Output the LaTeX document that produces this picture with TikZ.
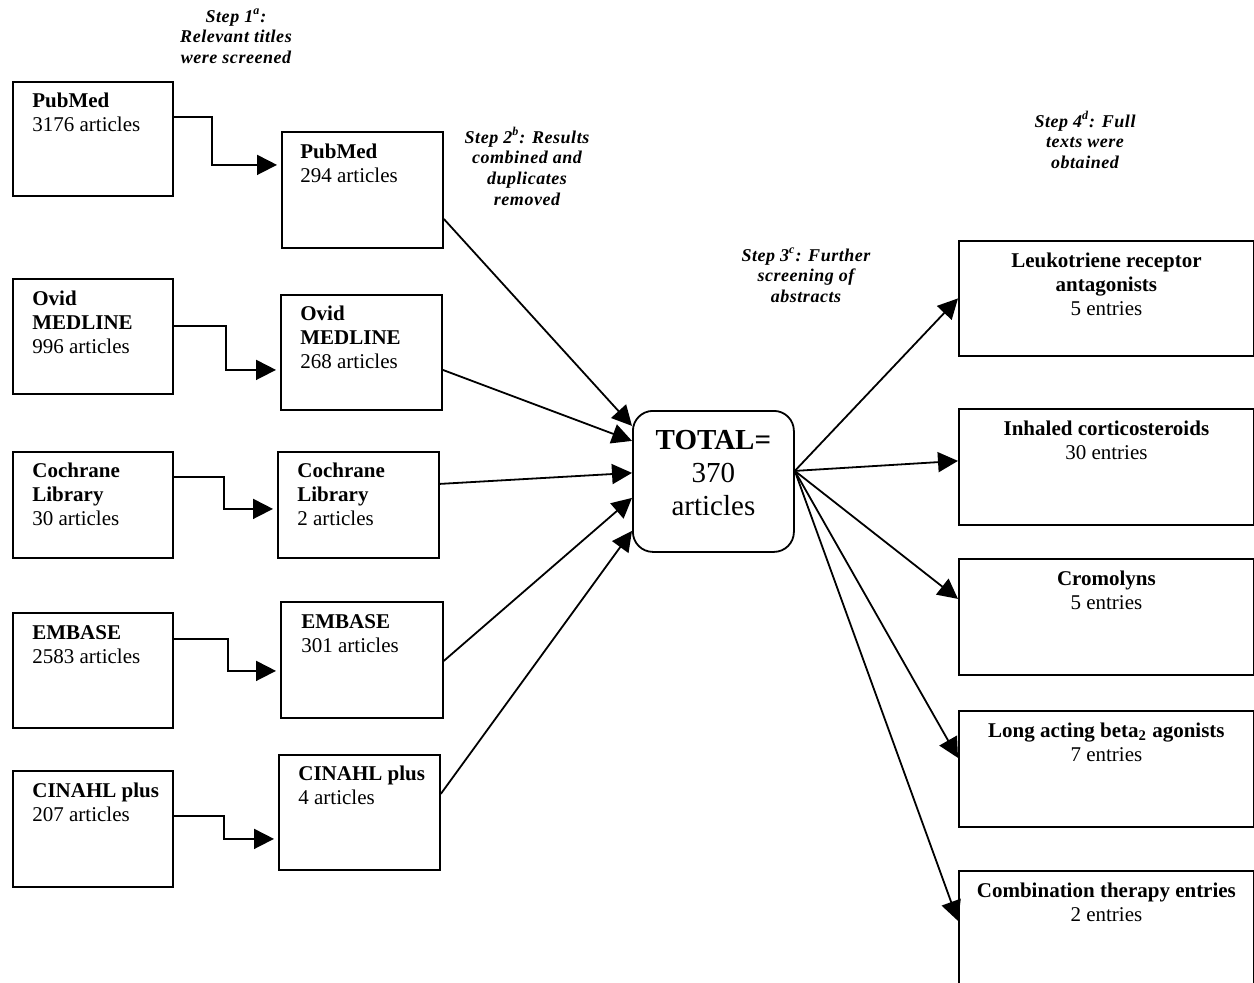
\documentclass[tikz,border=0pt]{standalone}
\usepackage{fontspec}
\setmainfont{Liberation Serif}
\usetikzlibrary{arrows.meta,calc}
\begin{document}
\begin{tikzpicture}[x=0.5pt,y=-0.5pt,
  box/.style={draw, line width=0.9pt, inner sep=0pt, anchor=north west, minimum width=80.5pt},
  rbox/.style={draw, line width=0.9pt, inner sep=0pt, anchor=north west, minimum width=147.5pt},
  txt/.style={anchor=base west, align=left, inner sep=0pt, font=\fontsize{10.5}{12}\selectfont},
  ctxt/.style={anchor=base, align=center, inner sep=0pt, font=\fontsize{10.5}{12}\selectfont},
  steplbl/.style={anchor=base, align=center, inner sep=0pt, font=\fontsize{9}{10.4}\selectfont\bfseries\itshape\addfontfeature{LetterSpace=3}},
  arr/.style={line width=0.9pt, -{Triangle[length=10pt,width=10pt]}},
]
\useasboundingbox (0,0) rectangle (1254,982);

% step labels (anchor = baseline of last line)
\node[steplbl] (s1) at (236,63.6) {Step 1\textsuperscript{a}:\\Relevant titles\\were screened};
\node[steplbl] (s2) at (527,205.4) {Step 2\textsuperscript{b}: Results\\combined and\\duplicates\\removed};
\node[steplbl] (s3) at (806,302.6) {Step 3\textsuperscript{c}: Further\\screening of\\abstracts};
\node[steplbl] (s4) at (1085,168.6) {Step 4\textsuperscript{d}: Full\\texts were\\obtained};

% left column
\node[box, minimum width=80pt, minimum height=57pt] (L1) at (12,81) {};
\node[txt] (L1t) at ($(L1.north west)+(20,50)$) {\textbf{PubMed}\\3176 articles};
\node[box, minimum width=80pt, minimum height=57.5pt] (L2) at (12,278) {};
\node[txt] (L2t) at ($(L2.north west)+(20,75)$) {\textbf{Ovid}\\\textbf{MEDLINE}\\996 articles};
\node[box, minimum width=80pt, minimum height=53pt] (L3) at (12,451) {};
\node[txt] (L3t) at ($(L3.north west)+(20,74)$) {\textbf{Cochrane}\\\textbf{Library}\\30 articles};
\node[box, minimum width=80pt, minimum height=57.5pt] (L4) at (12,612) {};
\node[txt] (L4t) at ($(L4.north west)+(20,51)$) {\textbf{EMBASE}\\2583 articles};
\node[box, minimum width=80pt, minimum height=58pt] (L5) at (12,770) {};
\node[txt] (L5t) at ($(L5.north west)+(20,51)$) {\textbf{CINAHL plus}\\207 articles};

% middle column
\node[box, minimum height=58pt] (M1) at (281,131) {};
\node[txt] (M1t) at ($(M1.north west)+(19,51)$) {\textbf{PubMed}\\294 articles};
\node[box, minimum height=57.5pt] (M2) at (280,294) {};
\node[txt] (M2t) at ($(M2.north west)+(20,74)$) {\textbf{Ovid}\\\textbf{MEDLINE}\\268 articles};
\node[box, minimum height=53pt] (M3) at (277,451) {};
\node[txt] (M3t) at ($(M3.north west)+(20,74)$) {\textbf{Cochrane}\\\textbf{Library}\\2 articles};
\node[box, minimum width=81pt, minimum height=58pt] (M4) at (280,601) {};
\node[txt] (M4t) at ($(M4.north west)+(21,51)$) {\textbf{EMBASE}\\301 articles};
\node[box, minimum height=57.5pt] (M5) at (278,754) {};
\node[txt] (M5t) at ($(M5.north west)+(20,50)$) {\textbf{CINAHL plus}\\4 articles};

% total
\node[draw, rounded corners=10pt, line width=0.9pt, anchor=north west, minimum width=80.5pt, minimum height=70.5pt, inner sep=0pt] (T) at (632,410) {};
\node[anchor=base, align=center, inner sep=0pt, font=\fontsize{14.5}{16.5}\selectfont] (Tt) at ($(T.north)+(0,105.5)$) {\textbf{TOTAL=}\\370\\articles};

% right column
\node[rbox, minimum height=57.5pt] (R1) at (958,240) {};
\node[ctxt] (R1t) at ($(R1.north)+(0,75)$) {\textbf{Leukotriene receptor}\\\textbf{antagonists}\\5 entries};
\node[rbox, minimum height=58pt] (R2) at (958,408) {};
\node[ctxt] (R2t) at ($(R2.north)+(0,51)$) {\textbf{Inhaled corticosteroids}\\30 entries};
\node[rbox, minimum height=58pt] (R3) at (958,558) {};
\node[ctxt] (R3t) at ($(R3.north)+(0,51)$) {\textbf{Cromolyns}\\5 entries};
\node[rbox, minimum height=58pt] (R4) at (958,710) {};
\node[ctxt] (R4t) at ($(R4.north)+(0,51)$) {\textbf{Long acting beta\textsubscript{2} agonists}\\7 entries};
\node[rbox, minimum height=65pt] (R5) at (958,870) {};
\node[ctxt] (R5t) at ($(R5.north)+(0,51)$) {\textbf{Combination therapy entries}\\2 entries};

% elbow connectors left -> middle
\draw[arr, shorten >=2pt] ($(L1.east)+(0,-22)$) -- ++(38,0) |- ($(M1.west)+(0,-25)$);
\draw[arr, shorten >=2pt] ($(L2.east)+(0,-10.5)$) -- ++(52,0) |- ($(M2.west)+(0,17.5)$);
\draw[arr, shorten >=2pt] ($(L3.east)+(0,-28)$) -- ++(50,0) |- ($(M3.west)+(0,4)$);
\draw[arr, shorten >=2pt] ($(L4.east)+(0,-31.5)$) -- ++(54,0) |- ($(M4.west)+(0,11)$);
\draw[arr, shorten >=2pt] ($(L5.east)+(0,-13)$) -- ++(50,0) |- ($(M5.west)+(0,26.5)$);

% middle -> total
\draw[arr] ($(M1.east)+(0,29)$) -- ($(T.west)+(0,-55.5)$);
\draw[arr] ($(M2.east)+(0,17.5)$) -- ($(T.west)+(0,-40.5)$);
\draw[arr] ($(M3.east)+(0,-21)$) -- ($(T.west)+(0,-8.5)$);
\draw[arr] ($(M4.east)+(0,1)$) -- ($(T.west)+(0,16.5)$);
\draw[arr] ($(M5.east)+(0,-18.5)$) -- ($(T.west)+(0,49.5)$);

% total -> right
\coordinate (Tout) at ($(T.east)+(0,-10.5)$);
\draw[arr] (Tout) -- ($(R1.west)+(0,0)$);
\draw[arr] (Tout) -- ($(R2.west)+(0,-6)$);
\draw[arr] (Tout) -- ($(R3.west)+(0,-18)$);
\draw[arr] (Tout) -- ($(R4.west)+(0,-11)$);
\draw[arr] (Tout) -- ($(R5.west)+(0,-15)$);
\end{tikzpicture}
\end{document}
